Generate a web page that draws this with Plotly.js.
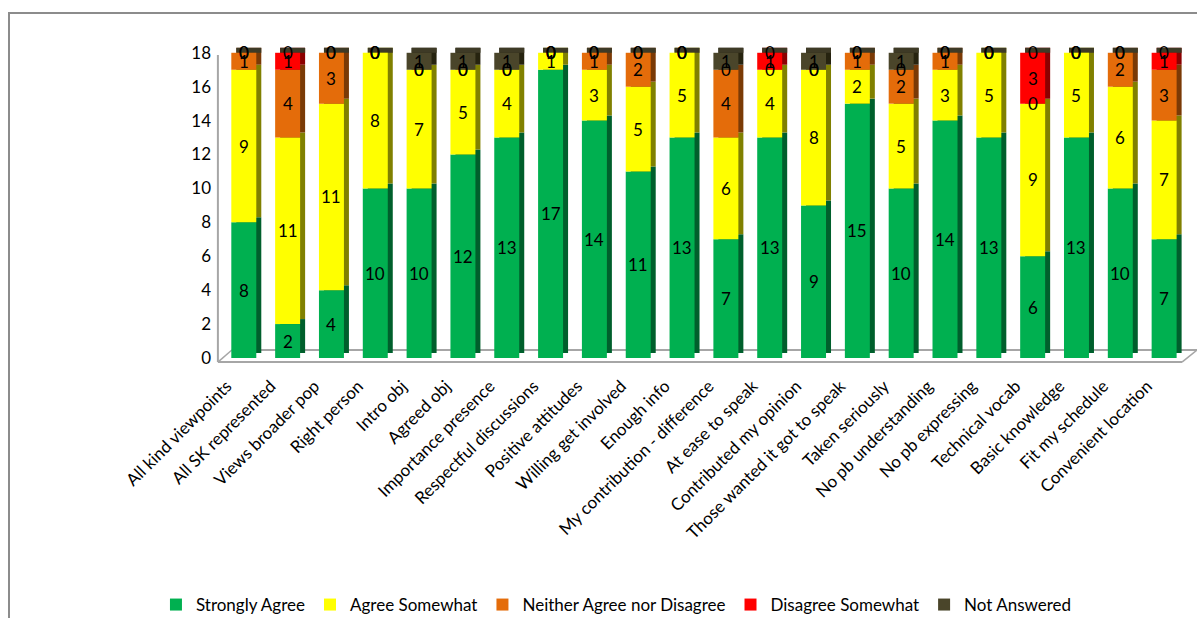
<!DOCTYPE html>
<html>
<head>
<meta charset="utf-8">
<script src="https://cdn.plot.ly/plotly-3.0.1.min.js"></script>
<style>html,body{margin:0;padding:0;background:#fff;}#chart{width:1197px;height:618px;}</style>
</head>
<body>
<div id="chart"></div>
<script>
const categories = ["All kind viewpoints","All SK represented","Views broader pop","Right person","Intro obj","Agreed obj","Importance presence","Respectful discussions","Positive attitudes","Willing get involved","Enough info","My contribution - difference","At ease to speak","Contributed my opinion","Those wanted it got to speak","Taken seriously","No pb understanding","No pb expressing","Technical vocab","Basic knowledge","Fit my schedule","Convenient location"];
const stronglyAgree    = [8,2,4,10,10,12,13,17,14,11,13,7,13,9,15,10,14,13,6,13,10,7];
const agreeSomewhat    = [9,11,11,8,7,5,4,1,3,5,5,6,4,8,2,5,3,5,9,5,6,7];
const neitherAgree     = [1,4,3,0,0,0,0,0,1,2,0,4,0,0,1,2,1,0,0,0,2,3];
const disagreeSomewhat = [0,1,0,0,0,0,0,0,0,0,0,0,1,0,0,0,0,0,3,0,0,1];
const notAnswered      = [0,0,0,0,1,1,1,0,0,0,0,1,0,1,0,1,0,0,0,0,0,0];
const seriesNames = ["Strongly Agree","Agree Somewhat","Neither Agree nor Disagree","Disagree Somewhat","Not Answered"];
const yTicks = [0,2,4,6,8,10,12,14,16,18];

const series = [stronglyAgree, agreeSomewhat, neitherAgree, disagreeSomewhat, notAnswered];
const frontColors = ["#00B050","#FFFF00","#E46C0A","#FF0000","#4A452A"];
const sideColors  = ["#005F2C","#808000","#7A3A06","#8B0000","#26230F"];
const capColor = "#3E3A26";

// geometry (pixels)
const L = 214, T = 46, B = 254, Wt = 1197, Ht = 618;
const W = Wt - L, H = Ht - T - B;
const xMin = -0.68, xMax = 21.75;
const yMin = -0.354, yMax = 18.4;
const dxPx = 5, dyPx = 5;
const dxu = dxPx * (xMax - xMin) / W;
const dyu = dyPx * (yMax - yMin) / H;
const barW = 0.57;

const idx = categories.map((c, i) => i);
const bases = [];
let run = idx.map(() => 0);
series.forEach(s => { bases.push(run.slice()); run = run.map((v, i) => v + s[i]); });
const totals = run;

const traces = [];
// depth (side / top faces), drawn on shifted axes underneath
series.forEach((s, k) => {
  traces.push({type:"bar", x: idx, y: s, base: bases[k], width: barW, xaxis:"x", yaxis:"y",
    marker:{color: sideColors[k], line:{width:0}}, showlegend:false, hoverinfo:"skip"});
});
traces.push({type:"bar", x: idx, y: idx.map(() => dyu), base: totals.map(t => t - dyu), width: barW,
  xaxis:"x", yaxis:"y", marker:{color: capColor, line:{width:0}}, showlegend:false, hoverinfo:"skip"});
// front faces
series.forEach((s, k) => {
  traces.push({type:"bar", name: seriesNames[k], legendgroup: "g" + k, x: idx, y: s, base: bases[k], width: barW,
    xaxis:"x2", yaxis:"y2", marker:{color: frontColors[k], line:{width:0}}, hoverinfo:"skip"});
});

const annotations = [];
series.forEach((s, k) => {
  s.forEach((v, i) => {
    annotations.push({xref:"x2", yref:"y2", x: i, y: bases[k][i] + v / 2, text: String(v),
      showarrow:false, font:{family:"Lato, 'Open Sans', sans-serif", size:17, color:"#000"}});
  });
});

const gray = "#A6A6A6";
const n = categories.length;
const fl = -0.591, fr = n - 1 + 0.408, bl = -0.272, br = n - 1 + 0.75;
const fy = -0.24, by = 0.47;
const shapes = [
  {type:"line", xref:"x2", yref:"y2", x0: fl, x1: fr, y0: fy, y1: fy, line:{color:gray, width:2}, layer:"below"},
  {type:"line", xref:"x2", yref:"y2", x0: bl, x1: br, y0: by, y1: by, line:{color:gray, width:2}, layer:"below"},
  {type:"line", xref:"x2", yref:"y2", x0: fl, x1: bl, y0: fy, y1: by, line:{color:gray, width:1.5}, layer:"below"},
  {type:"line", xref:"x2", yref:"y2", x0: fr, x1: br, y0: fy, y1: by, line:{color:gray, width:1.5}, layer:"below"},
  {type:"line", xref:"x2", yref:"y2", x0: fl, x1: fl, y0: fy, y1: 17.87, line:{color:gray, width:2}, layer:"below"},
  {type:"rect", xref:"paper", yref:"paper",
   x0: (9 - L) / W, x1: (1205 - L) / W, y0: -(625 - (T + H)) / H, y1: 1 + (T - 13) / H,
   line:{color:"#8C8C8C", width:2}, fillcolor:"rgba(0,0,0,0)", layer:"below"}
];

const layout = {
  width: Wt, height: Ht,
  margin:{l: L, r: 0, t: T, b: B, pad: 0},
  paper_bgcolor:"#fff", plot_bgcolor:"rgba(0,0,0,0)",
  barmode:"overlay",
  showlegend:true,
  font:{family:"Lato, 'Open Sans', sans-serif", color:"#000"},
  xaxis:{range:[xMin - dxu, xMax - dxu], visible:false, fixedrange:true},
  yaxis:{range:[yMin - dyu, yMax - dyu], visible:false, fixedrange:true},
  xaxis2:{overlaying:"x", anchor:"y2", side:"bottom", range:[xMin, xMax], tickmode:"array",
    tickvals: idx, ticktext: categories, tickangle:-45, showgrid:false, zeroline:false, showline:false,
    ticks:"", ticklabelstandoff: 8, ticklabelshift: -17, tickfont:{size:17, color:"#000"}},
  yaxis2:{overlaying:"y", anchor:"x2", side:"left", range:[yMin, yMax], tickmode:"array",
    tickvals: yTicks, ticktext: yTicks.map(String), showgrid:false, zeroline:false, showline:false,
    ticks:"", ticklabelstandoff: 2, tickfont:{size:17, color:"#000"}},
  legend:{orientation:"h", xref:"container", yref:"container", x:0.515, xanchor:"center",
    y: 13 / Ht, yanchor:"middle", font:{size:17, color:"#000"}, itemwidth:30, traceorder:"normal",
    tracegroupgap: 22},
  annotations: annotations,
  shapes: shapes,
  hovermode:false
};

Plotly.newPlot("chart", traces, layout, {displayModeBar:false, staticPlot:true});
</script>
</body>
</html>
